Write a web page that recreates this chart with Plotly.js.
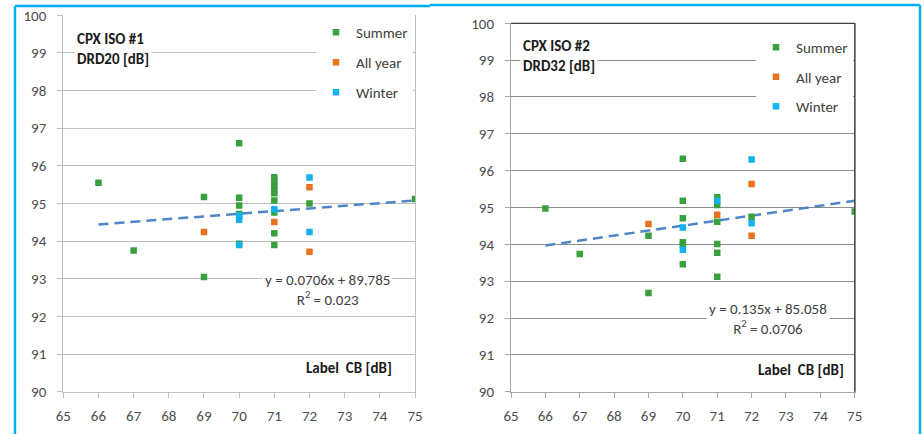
<!DOCTYPE html>
<html>
<head>
<meta charset="utf-8">
<script src="https://cdn.plot.ly/plotly-3.0.1.min.js"></script>
<style>html,body{margin:0;padding:0;background:#fff;}#chart{width:924px;height:434px;}</style>
</head>
<body>
<div id="chart"></div>
<script>
// ---- Data ----
var seriesNames = ["Summer", "All year", "Winter"];
var xTicks = [65, 66, 67, 68, 69, 70, 71, 72, 73, 74, 75];
var yTicks = [90, 91, 92, 93, 94, 95, 96, 97, 98, 99, 100];

// Panel 1: CPX ISO #1, DRD20 [dB]
var summer1X = [66, 67, 69, 69, 70, 70, 70, 70, 70, 71, 71, 71, 71, 71, 71, 71, 71, 71, 72, 75];
var summer1Y = [95.55, 93.75, 95.17, 93.05, 96.6, 95.15, 94.95, 94.72, 93.93, 95.7, 95.58, 95.47, 95.36, 95.27, 95.08, 94.76, 94.21, 93.9, 95.0, 95.12];
var allYear1X = [69, 71, 72, 72];
var allYear1Y = [94.24, 94.51, 95.43, 93.72];
var winter1X = [70, 70, 70, 71, 72, 72];
var winter1Y = [94.68, 94.57, 93.9, 94.85, 95.69, 94.24];
var trend1X = [66, 75];
var trend1Y = [94.445, 95.08];
var eq1 = "y = 0.0706x + 89.785<br>R<sup>2</sup> = 0.023";

// Panel 2: CPX ISO #2, DRD32 [dB]
var summer2X = [66, 67, 69, 69, 70, 70, 70, 70, 70, 70, 71, 71, 71, 71, 71, 71, 72, 75];
var summer2Y = [94.97, 93.74, 94.23, 92.68, 96.32, 95.18, 94.71, 94.06, 93.98, 93.46, 95.28, 95.07, 94.61, 94.01, 93.77, 93.12, 94.75, 94.89];
var allYear2X = [69, 71, 72, 72];
var allYear2Y = [94.55, 94.8, 95.64, 94.23];
var winter2X = [70, 70, 71, 72, 72];
var winter2Y = [94.46, 93.85, 95.18, 96.3, 94.57];
var trend2X = [66, 75];
var trend2Y = [93.968, 95.183];
var eq2 = "y = 0.135x + 85.058<br>R<sup>2</sup> = 0.0706";

var titles = ["CPX ISO #1<br>DRD20 [dB]", "CPX ISO #2<br>DRD32 [dB]"];
var xLabel = "Label  CB [dB]";

// ---- Styling ----
var W = 924, H = 434;
function px(x) { return x / W; }
function py(y) { return 1 - y / H; }
var FONT = "Carlito, Lato, 'Liberation Sans', sans-serif";
var FS = 15;
var colors = ["#38a03c", "#e9721c", "#12b2ee"];
var trendColor = "#4f86c6";
var MS = 6.5;

function pts(x, y, name, color, xa, ya, leg) {
  return {
    type: "scatter", mode: "markers", x: x, y: y, name: name,
    xaxis: xa, yaxis: ya, legend: leg, legendgroup: leg + name, showlegend: true,
    marker: { symbol: "square", size: MS, color: color },
    hoverinfo: "x+y"
  };
}
function trend(x, y, xa, ya) {
  return {
    type: "scatter", mode: "lines", x: x, y: y, xaxis: xa, yaxis: ya,
    showlegend: false, line: { color: trendColor, width: 2.5, dash: "10px,6px" },
    hoverinfo: "skip"
  };
}

var data = [
  trend(trend1X, trend1Y, "x", "y"),
  pts(summer1X, summer1Y, seriesNames[0], colors[0], "x", "y", "legend"),
  pts(allYear1X, allYear1Y, seriesNames[1], colors[1], "x", "y", "legend"),
  pts(winter1X, winter1Y, seriesNames[2], colors[2], "x", "y", "legend"),
  trend(trend2X, trend2Y, "x2", "y2"),
  pts(summer2X, summer2Y, seriesNames[0], colors[0], "x2", "y2", "legend2"),
  pts(allYear2X, allYear2Y, seriesNames[1], colors[1], "x2", "y2", "legend2"),
  pts(winter2X, winter2Y, seriesNames[2], colors[2], "x2", "y2", "legend2")
];

function xax(domain, anchor, lineColor) {
  return {
    domain: domain, anchor: anchor, range: [65, 75], tickvals: xTicks, ticktext: xTicks.map(String),
    showgrid: false, zeroline: false, showline: true, linecolor: lineColor, linewidth: 1,
    ticks: "outside", ticklen: 5, tickcolor: lineColor, tickwidth: 1,
    ticklabelstandoff: 5,
    tickfont: { family: FONT, size: FS, color: "#4d4d4d" }, fixedrange: true
  };
}
function yax(domain, anchor, gridColor, lineColor) {
  return {
    domain: domain, anchor: anchor, range: [90, 100], tickvals: yTicks, ticktext: yTicks.map(String),
    showgrid: true, gridcolor: gridColor, gridwidth: 1, zeroline: false,
    showline: true, mirror: true, linecolor: lineColor, linewidth: 1,
    ticks: "outside", ticklen: 5, tickcolor: lineColor, tickwidth: 1,
    ticklabelstandoff: 8,
    tickfont: { family: FONT, size: FS, color: "#4d4d4d" }, fixedrange: true
  };
}

function legendAt(x, y, gap) {
  return {
    bgcolor: "#ffffff", borderwidth: 0, xanchor: "left", yanchor: "top",
    font: { family: FONT, size: FS, color: "#404040" }, tracegroupgap: gap,
    itemclick: false, itemdoubleclick: false, x: px(x), y: py(y)
  };
}

var borderColor = "#00b0f0";
function bline(x0, y0, x1, y1) {
  return { type: "line", xref: "paper", yref: "paper", x0: px(x0), y0: py(y0), x1: px(x1), y1: py(y1),
           line: { color: borderColor, width: 2.5 } };
}
function ann(text, x, y, xanchor, yanchor, opts) {
  var a = { text: text, xref: "paper", yref: "paper", x: px(x), y: py(y), xanchor: xanchor, yanchor: yanchor,
            showarrow: false, bgcolor: "#ffffff", borderpad: 2,
            font: { family: FONT, size: FS, color: "#404040" }, align: "left" };
  for (var k in opts) a[k] = opts[k];
  return a;
}

var layout = {
  width: W, height: H, margin: { l: 0, r: 0, t: 0, b: 0 },
  paper_bgcolor: "#ffffff", plot_bgcolor: "#ffffff",
  showlegend: true,
  xaxis: xax([px(63.3), px(415)], "y", "#bfbfbf"),
  yaxis: yax([py(391.7), py(15.3)], "x", "#bfbfbf", "#bfbfbf"),
  xaxis2: xax([px(511), px(854.7)], "y2", "#a6a6a6"),
  yaxis2: yax([py(391.7), py(23.3)], "x2", "#8c8c8c", "#a6a6a6"),
  legend: legendAt(316, 16, 7.5),
  legend2: legendAt(756, 31, 7),
  shapes: [
    bline(15, 6, 15, 434),
    bline(15, 6, 430, 6),
    bline(430, 5, 920, 5),
    bline(920, 5, 920, 434),
    { type: "line", xref: "x2 domain", yref: "y2 domain", x0: 0, x1: 1, y0: 1, y1: 1, line: { color: "#404040", width: 1.2 } },
    { type: "line", xref: "x2 domain", yref: "y2 domain", x0: 1, x1: 1, y0: 0, y1: 1, line: { color: "#404040", width: 1.2 } }
  ],
  annotations: [
    ann("<b>" + titles[0].replace("<br>", "</b><br><b>") + "</b>", 74, 27, "left", "top", { font: { family: FONT, size: FS, color: "#1a1a1a" } }),
    ann("<b>" + titles[1].replace("<br>", "</b><br><b>") + "</b>", 520, 34, "left", "top", { font: { family: FONT, size: FS, color: "#1a1a1a" } }),
    ann(eq1, 327, 290, "center", "middle", { align: "center" }),
    ann(eq2, 768, 319, "center", "middle", { align: "center" }),
    ann("<b>" + xLabel + "</b>", 395, 368, "right", "middle", { font: { family: FONT, size: FS, color: "#1a1a1a" }, bgcolor: "rgba(0,0,0,0)" }),
    ann("<b>" + xLabel + "</b>", 847, 370, "right", "middle", { font: { family: FONT, size: FS, color: "#1a1a1a" }, bgcolor: "rgba(0,0,0,0)" })
  ]
};

Plotly.newPlot("chart", data, layout, { displayModeBar: false, responsive: false });
</script>
</body>
</html>
